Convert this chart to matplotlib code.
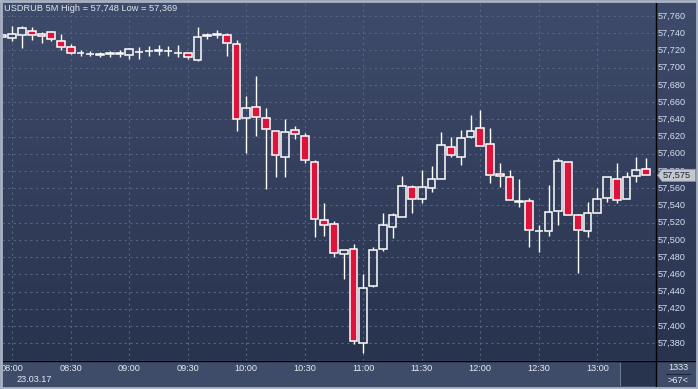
import numpy as np
import pandas as pd
import matplotlib
matplotlib.use('Agg')
import matplotlib.pyplot as plt
import matplotlib.transforms as mtransforms
from matplotlib.colors import LinearSegmentedColormap
from matplotlib.patches import Rectangle, Polygon
from matplotlib.lines import Line2D

W, H = 698, 389

# 5 minute candles, 07:55 .. 13:25
times = pd.date_range('2017-03-23 07:55', periods=67, freq='5min')
opens = [57736, 57735, 57737.5, 57743, 57739, 57741, 57731, 57723.5, 57717, 57715.5,
         57715, 57716, 57716, 57714.5, 57718, 57719, 57719.7, 57719, 57716.5, 57716.7,
         57709, 57737.3, 57737.5, 57738.3, 57727, 57641, 57654.5, 57641, 57626, 57596,
         57627.6, 57620.6, 57591, 57522.7, 57519, 57483.2, 57489, 57380.6, 57446, 57489,
         57515.4, 57527, 57561, 57547, 57560, 57571, 57607.5, 57596, 57619.8, 57629.5,
         57611.3, 57576.1, 57572.7, 57544.3, 57544.8, 57510, 57510, 57533, 57590, 57529,
         57510, 57531, 57548.3, 57571, 57547, 57574, 57582]
highs = [57738.5, 57748, 57748, 57747, 57742, 57743, 57739, 57727.5, 57721, 57719.5,
         57718, 57719.5, 57720, 57722.5, 57724.5, 57725, 57726.7, 57725, 57726, 57718,
         57747, 57740.6, 57743.7, 57740.6, 57732, 57667, 57690, 57653, 57626.5, 57640,
         57632.2, 57624.5, 57593, 57543, 57522.3, 57488.5, 57495, 57460.4, 57492, 57531.5,
         57531, 57574, 57563.4, 57581, 57585.6, 57625, 57620, 57627.6, 57645.4, 57651,
         57630, 57589, 57581, 57570.3, 57548.3, 57517, 57563.7, 57595, 57590.5, 57530,
         57544, 57560, 57573.5, 57589, 57578.5, 57596, 57594.7]
lows = [57735.5, 57731, 57723, 57732, 57729, 57731, 57720, 57716, 57713.5, 57713.5,
        57712, 57712.5, 57712.5, 57710.5, 57709.7, 57713.5, 57715, 57714, 57712, 57709.7,
        57707.4, 57733.6, 57734.4, 57713.5, 57627, 57601, 57620.5, 57559.5, 57573.5, 57573.5,
        57616.8, 57589, 57503.7, 57504.5, 57480.4, 57454, 57379.6, 57369, 57445.5, 57487.4,
        57501.8, 57526.6, 57531.5, 57543, 57556, 57571, 57596, 57587.3, 57618, 57609.4,
        57566.4, 57562, 57545.9, 57538.5, 57492, 57486, 57504.5, 57517.6, 57528.5, 57461,
        57503.7, 57530.8, 57544.3, 57543, 57547, 57567.5, 57575]
closes = [57738, 57739, 57746, 57737.5, 57736.5, 57733, 57724, 57716.7, 57717.5, 57716,
          57715.5, 57716.5, 57716.5, 57721.3, 57718.5, 57719.5, 57721, 57719.5, 57717, 57712,
          57735.3, 57738, 57739.5, 57729, 57640, 57653, 57642.3, 57628.4, 57598.2, 57625,
          57622.6, 57592.4, 57524, 57517, 57484.4, 57488, 57382.2, 57443.7, 57488.5, 57517.5,
          57529, 57562.6, 57548, 57561, 57570.3, 57610, 57598.2, 57618, 57626.8, 57609.6,
          57575.3, 57573.8, 57546, 57544.8, 57511, 57510.5, 57532, 57591.6, 57528.6, 57511,
          57530.8, 57547, 57573.4, 57546, 57572.7, 57581, 57575]

price_ticks = list(range(57380, 57761, 20))
time_labels = ['08:00', '08:30', '09:00', '09:30', '10:00', '10:30', '11:00',
               '11:30', '12:00', '12:30', '13:00']
date_label = '23.03.17'
last_price = 57575
title = 'USDRUB 5M High = 57,748 Low = 57,369'
bars_total = '1333'
bars_shown = '>67<'

plt.rcParams['font.family'] = ['Liberation Sans', 'DejaVu Sans']

def fx(x):
    return x / W

def fy(y):
    return 1 - y / H

fig = plt.figure(figsize=(W / 100, H / 100), dpi=100)
fig.patch.set_facecolor('#3e4b69')

# gradient background for plot + price scale
bg = fig.add_axes([fx(2), fy(360.5), fx(696), (360.5 - 2) / H])
bg.set_axis_off()
grad = LinearSegmentedColormap.from_list('bg', ['#28334e', '#3e4b6a'])
bg.imshow(np.linspace(0, 1, 256).reshape(-1, 1), cmap=grad, aspect='auto',
          origin='lower', extent=[0, 1, 0, 1])
bg.set_xlim(0, 1)
bg.set_ylim(0, 1)

ax = fig.add_axes([fx(2), fy(360.5), (655.5 - 2) / W, (360.5 - 2) / H])
ax.set_facecolor('none')
for s in ax.spines.values():
    s.set_visible(False)
ax.set_xticks([])
ax.set_yticks([])

x = ((times - pd.Timestamp('2017-03-23 08:00')).total_seconds() / 300).values
o = np.array(opens)
h = np.array(highs)
l = np.array(lows)
c = np.array(closes)

ax.set_xlim(-1.056, 65.97)
ax.set_ylim(57359.9, 57776.3)

# grid
grid_col = '#56647f'
tick_pos = [x[list(times.strftime('%H:%M')).index(t)] for t in time_labels]
ax.hlines(price_ticks, -1.056, 65.97, colors=grid_col, lw=0.8, linestyles=(0, (2, 3)), zorder=1)
ax.vlines(tick_pos, 57359.9, 57776.3, colors=grid_col, lw=0.8, linestyles=(0, (2, 3)), zorder=1)

# candles
top = np.maximum(o, c)
bot = np.minimum(o, c)
ax.vlines(x, top, h, colors='white', lw=1.0, zorder=2)
ax.vlines(x, l, bot, colors='white', lw=1.0, zorder=2)
up = c >= o
heights = np.maximum(top - bot, 0.6)
ax.bar(x[up], heights[up], bottom=bot[up], width=0.8, facecolor='none',
       edgecolor='white', linewidth=1.1, zorder=3)
ax.bar(x[~up], heights[~up], bottom=bot[~up], width=0.8, facecolor='#dc143c',
       edgecolor='white', linewidth=1.1, zorder=3)

fig.text(fx(4), fy(8.5), title, color='#dfe4ee', fontsize=6.7, va='center', ha='left')

# price scale labels
ytrans = mtransforms.blended_transform_factory(fig.transFigure, ax.transData)
for p in price_ticks:
    fig.text(fx(657.5), 0, f'{p:,}', transform=ytrans, color='#d6def0',
             fontsize=6.6, va='center', ha='left').set_y(p)

# time labels
xtrans = mtransforms.blended_transform_factory(ax.transData, fig.transFigure)
for t, pos in zip(time_labels, tick_pos):
    ax.text(pos, fy(368.5), t, transform=xtrans, color='#e4e8f0', fontsize=6.6,
            va='center', ha='center', clip_on=False)
fig.text(fx(34.5), fy(380), date_label, color='#e4e8f0', fontsize=6.6,
         va='center', ha='center')

# separators and frame
fig.add_artist(Rectangle((fx(621), fy(385.5)), fx(34.5), (385.5 - 362) / H,
                         transform=fig.transFigure, facecolor='#28334e', edgecolor='none'))
fig.add_artist(Line2D([fx(619.5)] * 2, [fy(363), fy(385)], color='#6e7a92', lw=0.8))
fig.add_artist(Line2D([fx(655.5)] * 2, [fy(0), fy(386)], color='black', lw=1.0))
fig.add_artist(Line2D([fx(2), fx(698)], [fy(360.8)] * 2, color='black', lw=1.0))

fig.text(fx(678.5), fy(368), bars_total, color='#e4e8f0', fontsize=6.6, va='center', ha='center')
fig.add_artist(Line2D([fx(666), fx(690)], [fy(374.3)] * 2, color='#1c2438', lw=0.8))
fig.text(fx(678.5), fy(380.5), bars_shown, color='#e4e8f0', fontsize=6.6, va='center', ha='center')

# current price marker, drawn over the scale labels
py = ax.transData.transform((0, last_price))[1]
pyp = H - py
pts = [(657.5, pyp), (662, pyp - 6), (695.5, pyp - 6), (695.5, pyp + 6), (662, pyp + 6)]
fig.add_artist(Polygon([(fx(a), fy(b)) for a, b in pts], closed=True, zorder=10,
                       transform=fig.transFigure, facecolor='#c3c7cf', edgecolor='#8e96a6', lw=0.6))
fig.text(fx(662.5), fy(pyp), f'{last_price:,}', color='#1d2230', fontsize=6.6,
         va='center', ha='left', zorder=11)

# outer border
for xs, ys in [([0, W], [0.8, 0.8]), ([0, W], [387.5, 387.5]),
               ([1, 1], [0, H]), ([697, 697], [0, H])]:
    fig.add_artist(Line2D([fx(v) for v in xs], [fy(v) for v in ys], color='#aab3c3', lw=2.0))

fig.savefig('out.png', dpi=100, facecolor=fig.get_facecolor())
